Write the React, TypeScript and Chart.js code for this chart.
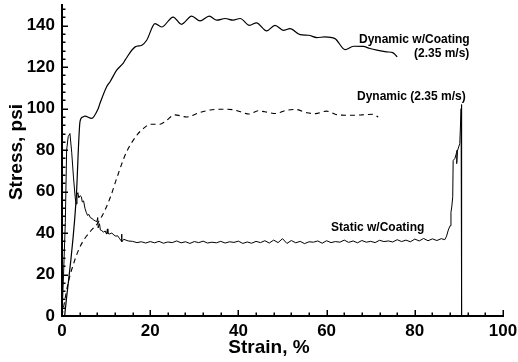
import React, { useEffect, useRef } from 'react';
import { Chart, registerables } from 'chart.js';

Chart.register(...registerables);

// ---- Data ----
const dynCoatStrain = [0.6, 3.2, 4.1, 4.7, 5.2, 6.7, 8.2, 8.6, 10.1, 10.9, 12.4, 13.9, 14.3, 16.6, 18.1, 19.2, 21.1, 22.6, 25.2, 27.1, 29.4, 31.3, 33.4, 35.1, 37.0, 38.8, 40.4, 42.5, 44.1, 46.4, 48.3, 50.2, 51.7, 54.0, 55.9, 57.8, 59.6, 61.9, 64.2, 66.1, 68.3, 69.8, 71.4, 73.6, 75.1, 76.0];
const dynCoatStress = [0, 56, 94, 96, 96.4, 95.3, 100, 102.5, 110.5, 113, 118.6, 122, 123.4, 129.8, 130.6, 133, 141, 139.4, 144.2, 140.7, 144.6, 142.3, 144.6, 142.7, 143.5, 142.7, 143.5, 140.2, 141.4, 137.5, 140.2, 137.8, 138.6, 135.7, 135.4, 134.3, 134.6, 133.8, 128.5, 130.1, 130.0, 129.0, 128.2, 127.4, 126.9, 125.0];

const dynStrain = [0, 0.5, 1.4, 2.9, 4.0, 5.2, 6.5, 8.0, 9.5, 11.0, 12.5, 14.5, 16.9, 18.5, 20.0, 22.2, 23.5, 25.6, 28.3, 31.0, 34.0, 36.5, 38.8, 40.5, 42.4, 44.5, 46.0, 48.5, 50.8, 53.0, 55.5, 57.5, 60.0, 62.5, 65.0, 68.0, 70.5, 71.7];
const dynStress = [0, 6, 16, 27, 33, 37.5, 41, 44.5, 50, 57.5, 67, 78.5, 87, 90.5, 92.5, 92.5, 94, 97, 96, 98, 99.5, 99.7, 99.5, 98.5, 97.4, 99, 98.5, 97.7, 99.2, 99.6, 98, 97.6, 98.8, 97, 96.8, 97, 97.3, 96];

const staticStrain = [
  0, 0.35, 0.75, 1.05, 1.4, 1.8, 2.2, 2.6, 3.0, 3.2, 3.4, 3.6, 3.8, 4.1, 4.4, 4.6, 4.9, 5.2, 5.5, 5.8, 6.1, 6.4, 6.8, 7.2, 7.6, 7.9, 8.1, 8.2, 8.5, 8.7, 9.0, 9.4, 9.8, 10.1, 10.3, 10.4, 10.8, 11.3, 11.8, 12.2, 12.6, 13.0, 13.4, 13.5, 13.6,
  14, 15, 16, 17, 18, 19, 20, 21, 22, 23, 24, 25, 26, 27, 28, 29, 30, 31, 32, 33, 34, 35, 36, 37, 38, 39, 40, 41, 42, 43, 44, 45, 46, 47, 48, 49, 50,
  51, 52, 53, 54, 55, 56, 57, 58, 59, 60, 61, 62, 63, 64, 65, 66, 67, 68, 69, 70, 71, 72, 73, 74, 75, 76, 77, 78, 79, 80, 81, 82, 83, 84, 85, 86, 86.8,
  87.2, 87.6, 88.0, 88.2, 88.4, 88.6, 88.7, 89.1, 89.5, 89.6, 89.5, 89.65, 90.2, 90.5, 90.6, 90.62
];
const staticStress = [
  0, 20, 45, 80, 86.5, 88, 79, 67, 57, 54, 58.5, 59.5, 57, 58, 57.5, 55, 55.5, 52, 50, 48.5, 49, 47.5, 47, 46.3, 45.8, 45.5, 47.5, 42.5, 44.5, 41.5, 41.2, 40.5, 41, 39.5, 42, 39.8, 39.6, 40, 39, 38.5, 38.7, 37.5, 36.3, 39.5, 35.8,
  37.0, 36.2, 36.0, 35.4, 35.8, 35.2, 35.9, 35.3, 36.0, 35.1, 35.7, 35.4, 36.2, 35.3, 35.8, 35.0, 35.9, 35.4, 36.1, 35.2, 35.6, 35.3, 36.0, 35.2, 35.8, 35.5, 36.1, 35.0, 35.7, 35.1, 36.0, 35.4, 36.3, 35.2, 36.6, 35.4, 37.3,
  35.0, 36.4, 35.3, 36.0, 34.9, 35.8, 35.6, 36.2, 35.1, 36.3, 35.4, 35.9, 35.6, 36.6, 35.5, 36.2, 35.3, 36.4, 35.6, 36.0, 35.4, 36.5, 35.9, 36.2, 35.7, 36.8, 35.9, 36.6, 35.8, 37.1, 36.2, 37.4, 36.3, 37.2, 36.4, 37.3, 36.8,
  38.5, 41.5, 43.5, 50, 53, 57.5, 75, 76, 79, 80, 73.5, 79.5, 83.2, 100, 102, 0
];

const xTickValues = [0, 20, 40, 60, 80, 100];
const yTickValues = [0, 20, 40, 60, 80, 100, 120, 140];
const xMax = 100;
const yMax = 150;
const minorStep = 4;

const xTitle = 'Strain, %';
const yTitle = 'Stress, psi';

const annotations = [
  { text: 'Dynamic w/Coating', x: 359, y: 40 },
  { text: '(2.35 m/s)', x: 414, y: 54 },
  { text: 'Dynamic (2.35 m/s)', x: 357, y: 97 },
  { text: 'Static w/Coating', x: 331, y: 228 },
];

const FONT = '"Liberation Sans", Arial, Helvetica, sans-serif';

const toPoints = (xs: number[], ys: number[]) => xs.map((x, i) => ({ x, y: ys[i] }));

const decorPlugin = {
  id: 'decor',
  afterDraw(chart: any) {
    const ctx = chart.ctx as CanvasRenderingContext2D;
    const xs = chart.scales.x;
    const ys = chart.scales.y;
    const { left, bottom } = chart.chartArea;
    ctx.save();
    ctx.strokeStyle = '#000';
    ctx.lineWidth = 1.5;
    for (let v = 0; v <= xMax; v += minorStep) {
      const major = v % 20 === 0;
      const px = Math.round(xs.getPixelForValue(v)) + 0.25;
      ctx.beginPath();
      ctx.moveTo(px, bottom);
      ctx.lineTo(px, bottom - (major ? 6 : 3.5));
      ctx.stroke();
    }
    for (let v = 0; v < yMax; v += minorStep) {
      const major = v % 20 === 0;
      const py = Math.round(ys.getPixelForValue(v)) + 0.25;
      ctx.beginPath();
      ctx.moveTo(left, py);
      ctx.lineTo(left + (major ? 6 : 3.5), py);
      ctx.stroke();
    }
    // axis titles
    ctx.fillStyle = '#000';
    ctx.font = `bold 19px ${FONT}`;
    ctx.textAlign = 'center';
    ctx.textBaseline = 'middle';
    ctx.fillText(xTitle, 269, 348);
    ctx.save();
    ctx.translate(17, 152);
    ctx.rotate(-Math.PI / 2);
    ctx.fillText(yTitle, 0, 0);
    ctx.restore();
    // annotations
    ctx.font = `bold 12px ${FONT}`;
    ctx.textAlign = 'left';
    for (const a of annotations) ctx.fillText(a.text, a.x, a.y);
    ctx.restore();
  },
};

export default function App() {
  const ref = useRef<HTMLCanvasElement | null>(null);
  useEffect(() => {
    if (!ref.current) return;
    const chart = new Chart(ref.current, {
      type: 'line',
      data: {
        datasets: [
          {
            label: 'Dynamic w/Coating (2.35 m/s)',
            data: toPoints(dynCoatStrain, dynCoatStress),
            borderColor: '#000',
            borderWidth: 1.2,
            pointRadius: 0,
            cubicInterpolationMode: 'monotone',
            fill: false,
          },
          {
            label: 'Dynamic (2.35 m/s)',
            data: toPoints(dynStrain, dynStress),
            borderColor: '#000',
            borderWidth: 1.1,
            borderDash: [5, 4],
            pointRadius: 0,
            cubicInterpolationMode: 'monotone',
            fill: false,
          },
          {
            label: 'Static w/Coating',
            data: toPoints(staticStrain, staticStress),
            borderColor: '#000',
            borderWidth: 1,
            pointRadius: 0,
            tension: 0,
            fill: false,
          },
        ],
      },
      options: {
        responsive: false,
        animation: false,
        layout: { padding: { top: 5, right: 15, left: 0, bottom: 0 } },
        plugins: { legend: { display: false }, tooltip: { enabled: false } },
        scales: {
          x: {
            type: 'linear',
            min: 0,
            max: xMax,
            afterBuildTicks: (s: any) => { s.ticks = xTickValues.map((v) => ({ value: v })); },
            afterFit: (s: any) => { s.height = 46; s.paddingLeft = 0; s.paddingRight = 0; },
            grid: { display: false, drawTicks: false },
            border: { display: true, color: '#000', width: 2 },
            ticks: { color: '#000', padding: 5, maxRotation: 0, autoSkip: false, font: { family: FONT, size: 17, weight: 'bold' } },
          },
          y: {
            type: 'linear',
            min: 0,
            max: yMax,
            afterBuildTicks: (s: any) => { s.ticks = yTickValues.map((v) => ({ value: v })); },
            afterFit: (s: any) => { s.width = 62; s.paddingTop = 0; s.paddingBottom = 0; },
            grid: { display: false, drawTicks: false },
            border: { display: true, color: '#000', width: 2 },
            ticks: { color: '#000', padding: 7, autoSkip: false, font: { family: FONT, size: 17, weight: 'bold' } },
          },
        },
      },
      plugins: [decorPlugin],
    } as any);
    return () => chart.destroy();
  }, []);
  return (
    <div style={{ position: 'absolute', left: 0, top: 0, width: 518, height: 362, background: '#fff' }}>
      <canvas ref={ref} width={518} height={362} style={{ display: 'block' }} />
    </div>
  );
}
